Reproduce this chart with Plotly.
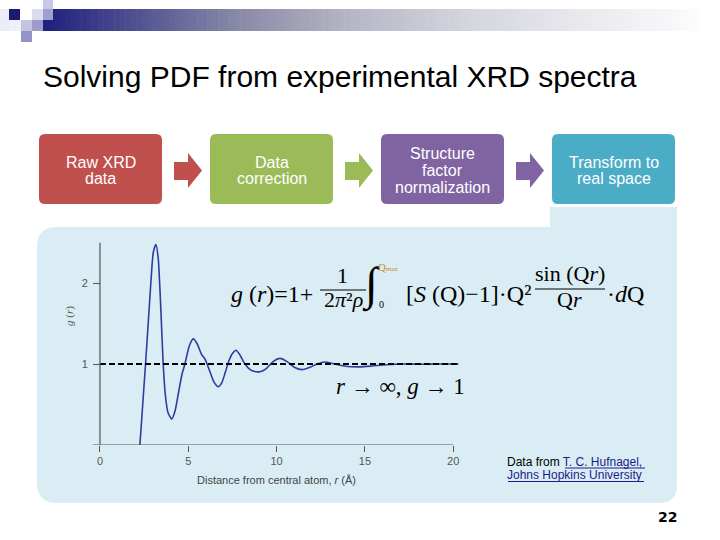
import plotly.graph_objects as go

W, H = 720, 540

# ---------------- data ----------------
r_vals = [2.15, 2.26, 2.42, 2.58, 2.73, 2.88, 3.02, 3.17, 3.30, 3.40, 3.50, 3.58, 3.70, 3.85,
          4.06, 4.25, 4.45, 4.65, 4.81, 5.05, 5.28, 5.50, 5.75, 5.95, 6.20, 6.45, 6.70,
          6.90, 7.10, 7.30, 7.50, 7.70, 7.90, 8.15, 8.40, 8.70, 9.06, 9.40, 9.80, 10.19,
          10.60, 11.00, 11.45, 11.90, 12.30, 12.70, 13.30, 14.00, 14.70, 15.40, 16.20,
          17.20, 18.20, 19.20, 20.30]
g_vals = [-0.25, 0.00, 0.50, 1.00, 1.50, 2.00, 2.38, 2.475, 2.30, 1.90, 1.40, 1.00, 0.62, 0.40,
          0.32, 0.42, 0.65, 0.88, 1.00, 1.22, 1.31, 1.25, 1.12, 1.06, 0.92, 0.78, 0.72,
          0.77, 0.90, 1.04, 1.13, 1.17, 1.12, 1.02, 0.95, 0.91, 0.905, 0.94, 1.03, 1.07,
          1.03, 0.96, 0.93, 0.96, 1.00, 1.025, 1.00, 0.97, 0.965, 0.975, 0.99,
          1.00, 0.997, 1.00, 1.00]
ref_r = [0, 20.3]
ref_g = [1, 1]
x_ticks = [0, 5, 10, 15, 20]
y_ticks = [1, 2]

title_text = "Solving PDF from experimental XRD spectra"
step_lines = [["Raw XRD", "data"],
              ["Data", "correction"],
              ["Structure", "factor", "normalization"],
              ["Transform to", "real space"]]
step_colors = ["#c0504d", "#9bbb59", "#8064a2", "#4bacc6"]
x_title = "Distance from central atom, <i>r</i> (Å)"
y_title = "<i>g</i> (<i>r</i>)"
page_no = "22"


def X(px):
    return px / W


def Y(py):
    return 1 - py / H


fig = go.Figure()
fig.add_trace(go.Scatter(x=r_vals, y=g_vals, mode="lines",
                         line=dict(color="#2b3d9f", width=1.6, shape="spline", smoothing=0.6),
                         hoverinfo="skip"))
fig.add_trace(go.Scatter(x=ref_r, y=ref_g, mode="lines",
                         line=dict(color="black", width=2, dash="6px,3px"),
                         hoverinfo="skip"))

shapes = []


def rect_px(x0, y0, x1, y1, color, layer="below"):
    shapes.append(dict(type="rect", xref="paper", yref="paper",
                       x0=X(x0), x1=X(x1), y0=Y(y1), y1=Y(y0),
                       fillcolor=color, line=dict(width=0), layer=layer))


def path_px(pts, color, layer="below"):
    s = ""
    for p in pts:
        if p[0] == "Q":
            s += "Q%.5f,%.5f %.5f,%.5f " % (X(p[1]), Y(p[2]), X(p[3]), Y(p[4]))
        else:
            s += "%s%.5f,%.5f " % (p[0], X(p[1]), Y(p[2]))
    s += "Z"
    shapes.append(dict(type="path", xref="paper", yref="paper", path=s,
                       fillcolor=color, line=dict(width=0), layer=layer))


def rrect_px(x0, y0, x1, y1, r, color):
    path_px([("M", x0 + r, y0), ("L", x1 - r, y0), ("Q", x1, y0, x1, y0 + r),
             ("L", x1, y1 - r), ("Q", x1, y1, x1 - r, y1), ("L", x0 + r, y1),
             ("Q", x0, y1, x0, y1 - r), ("L", x0, y0 + r), ("Q", x0, y0, x0 + r, y0)], color)


def line_px(x0, y0, x1, y1, color, width):
    shapes.append(dict(type="line", xref="paper", yref="paper",
                       x0=X(x0), x1=X(x1), y0=Y(y0), y1=Y(y1),
                       line=dict(color=color, width=width)))


# ---- banner gradient ----
stops = [(0.0, (30, 30, 126)), (0.30, (138, 138, 168)), (0.46, (180, 180, 196)),
         (0.64, (212, 212, 222)), (0.85, (236, 236, 240)), (1.0, (252, 252, 253))]


def grad(t):
    for (t0, c0), (t1, c1) in zip(stops[:-1], stops[1:]):
        if t0 <= t <= t1:
            f = (t - t0) / (t1 - t0)
            return "rgb(%d,%d,%d)" % tuple(round(a + (b - a) * f) for a, b in zip(c0, c1))
    return "rgb(252,252,253)"


bx0, bx1, n = 43, 700, 120
for i in range(n):
    a = bx0 + (bx1 - bx0) * i / n
    b = bx0 + (bx1 - bx0) * (i + 1) / n + 0.6
    rect_px(a, 9, b, 31, grad((i + 0.5) / n))

# ---- decorative squares ----
rect_px(0, 9, 9, 31, "#ececf6")
rect_px(9, 20, 21, 31, "#f0f0f8")
rect_px(9, 9, 20, 20, "#1a1a70")
rect_px(32, 9, 43, 20, "#dcdcee")
rect_px(43, 0, 53, 9, "#c8c8e4")
rect_px(43, 9, 53, 20, "#a0a0d0")
rect_px(21, 20, 32, 31, "#c4c4e2")
rect_px(32, 20, 43, 31, "#9c9ccc")
rect_px(21, 31, 32, 42, "#9494c8")

# ---- light-blue panel ----
panel = "#daedf4"
pr = 20
path_px([("M", 37 + pr, 227), ("L", 550, 227), ("L", 550, 207), ("L", 677, 207),
         ("L", 677, 503 - 18), ("Q", 677, 503, 677 - 18, 503), ("L", 37 + pr, 503),
         ("Q", 37, 503, 37, 503 - pr), ("L", 37, 227 + pr), ("Q", 37, 227, 37 + pr, 227)], panel)

# ---- process boxes and arrows ----
box_x = [39, 210, 381, 552]
for i, (lines, col) in enumerate(zip(step_lines, step_colors)):
    x0 = box_x[i]
    rrect_px(x0, 134, x0 + 123, 204, 6, col)
    if i < 3:
        a = x0 + 135
        path_px([("M", a, 162), ("L", a + 14, 162), ("L", a + 14, 153), ("L", a + 28, 170.5),
                 ("L", a + 14, 188), ("L", a + 14, 180), ("L", a, 180)], col)

# ---- formula rules ----
line_px(320, 290, 366, 290, "black", 1.2)
line_px(535, 289, 605, 289, "black", 1.2)

# ---- axis lines (data coordinates) ----
shapes.append(dict(type="line", xref="x", yref="y", x0=-0.4, x1=20, y0=0, y1=0,
                   line=dict(color="#555555", width=1.2)))
shapes.append(dict(type="line", xref="x", yref="y", x0=0, x1=0, y0=0, y1=2.5,
                   line=dict(color="#555555", width=1.2)))

# ---- link underlines ----
line_px(565, 468.0, 645, 468.0, "#1c1c8c", 1)
line_px(508, 481.5, 644, 481.5, "#1c1c8c", 1)

annos = []


def txt(px, py, text, size, color="black", family="Liberation Sans",
        xanchor="center", angle=0):
    annos.append(dict(x=X(px), y=Y(py), xref="paper", yref="paper", text=text,
                      showarrow=False, xanchor=xanchor, yanchor="middle",
                      borderpad=0, borderwidth=0, textangle=angle,
                      font=dict(family=family, size=size, color=color)))


# title
txt(43, 76.6, title_text, 30, "black", xanchor="left")

# box texts
for i, lines in enumerate(step_lines):
    cx = box_x[i] + 61.5
    nl = len(lines)
    for k, ln in enumerate(lines):
        base = 176 + (k - (nl - 1) / 2) * 16.6
        txt(cx, base - 5.5, ln, 16, "white")

# formula
serif = "Liberation Serif"
txt(231, 293.9, "<i>g</i> (<i>r</i>)=1+", 24, family=serif, xanchor="left")
txt(342, 275.6, "1", 22, family=serif)
txt(343, 299.6, "2<i>π</i>²<i>ρ</i>", 22, family=serif)
txt(371, 285, "∫", 46, family=serif)
txt(378, 267, "Q", 11, "#c8922e", family=serif, xanchor="left")
txt(386, 269, "max", 7, "#c8922e", family=serif, xanchor="left")
txt(381, 304, "0", 10, family=serif)
txt(406, 293.9, "[<i>S</i> (Q)−1]·Q²", 24, family=serif, xanchor="left")
txt(570, 273.6, "sin (Q<i>r</i>)", 22, family=serif)
txt(569, 299.6, "Q<i>r</i>", 22, family=serif)
txt(607, 293.9, "·<i>d</i>Q", 24, family=serif, xanchor="left")
txt(400, 386.2, "<i>r</i> → ∞, <i>g</i> → 1", 23, family=serif)

# axis titles
txt(276, 480, x_title, 11, "#444444")
txt(69, 316, y_title, 11, "#555555", family=serif, angle=-90)

# footnote
txt(507, 461.8, "Data from <span style='color:#1c1c8c'>T. C. Hufnagel,</span>", 12,
    xanchor="left")
txt(507, 475.3, "<span style='color:#1c1c8c'>Johns Hopkins University</span>", 12,
    xanchor="left")

# page number
txt(677, 517.2, "<b>%s</b>" % page_no, 14, "black", family="DejaVu Sans", xanchor="right")

fig.update_layout(
    width=W, height=H, margin=dict(l=0, r=0, t=0, b=0),
    paper_bgcolor="white", plot_bgcolor="rgba(0,0,0,0)", showlegend=False,
    shapes=shapes, annotations=annos,
    xaxis=dict(domain=[X(92.9), X(460.3)], range=[-0.4, 20.4], tickvals=x_ticks,
               ticks="outside", ticklen=6, tickcolor="#555555", tickwidth=1,
               showgrid=False, zeroline=False, showline=False, fixedrange=True,
               tickfont=dict(family="Liberation Sans", size=11, color="#555555")),
    yaxis=dict(domain=[Y(445), Y(242.5)], range=[0, 2.5], tickvals=y_ticks,
               ticks="inside", ticklen=7, tickcolor="#555555", tickwidth=1,
               showgrid=False, zeroline=False, showline=False, fixedrange=True,
               ticklabelstandoff=4,
               tickfont=dict(family="Liberation Sans", size=11, color="#555555")),
)

fig.write_html("out.html",
               config={"displayModeBar": False},
               post_script="document.body.style.margin='0px';"
                           "document.body.style.overflow='hidden';")
